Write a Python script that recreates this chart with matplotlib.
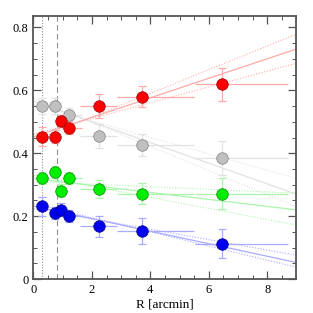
import numpy as np
import matplotlib.pyplot as plt
from matplotlib.ticker import MultipleLocator

# radial bins
r7 = [0.28, 0.72, 0.94, 1.22, 2.25, 3.73, 6.46]
r_lo7 = [0.18, 0.16, 0.12, 0.22, 0.66, 0.88, 0.94]
r_hi7 = [0.17, 0.13, 0.12, 0.44, 0.60, 1.77, 2.26]

r_gray = [0.28, 0.72, 1.22, 2.25, 3.73, 6.46]
r_lo_gray = [0.18, 0.16, 0.22, 0.66, 0.88, 0.94]
r_hi_gray = [0.17, 0.13, 0.44, 0.60, 1.77, 2.26]

red_y = [0.453, 0.453, 0.503, 0.481, 0.550, 0.579, 0.619]
red_err = [0.030, 0.020, 0.020, 0.020, 0.037, 0.033, 0.053]
gray_y = [0.551, 0.551, 0.522, 0.455, 0.426, 0.386]
gray_err = [0.025, 0.025, 0.022, 0.038, 0.035, 0.054]
green_y = [0.322, 0.341, 0.281, 0.322, 0.286, 0.272, 0.272]
green_err = [0.020, 0.020, 0.020, 0.020, 0.028, 0.033, 0.049]
blue_y = [0.231, 0.210, 0.221, 0.201, 0.168, 0.154, 0.113]
blue_err = [0.030, 0.020, 0.020, 0.020, 0.033, 0.041, 0.047]

# fitted lines: values at R=0 and R=9 (solid, upper dotted, lower dotted)
fit_x = [0, 9]
red_fit = [[0.452, 0.731], [0.440, 0.778], [0.460, 0.686]]
gray_fit = [[0.565, 0.270], [0.555, 0.320], [0.575, 0.230]]
green_fit = [[0.320, 0.220], [0.310, 0.273], [0.330, 0.172]]
blue_fit = [[0.232, 0.053], [0.225, 0.076], [0.240, 0.038]]

plt.rcParams['font.family'] = ['Liberation Serif', 'DejaVu Serif']

fig = plt.figure(figsize=(3.13, 3.13), dpi=100)
ax = fig.add_axes([0.107, 0.108, 0.84, 0.841])

series = [
    (r_gray, r_lo_gray, r_hi_gray, gray_y, gray_err, gray_fit, '#c0c0c0', '#808080', '#e2e2e2'),
    (r7, r_lo7, r_hi7, red_y, red_err, red_fit, '#ff0000', '#900000', '#ffaaaa'),
    (r7, r_lo7, r_hi7, green_y, green_err, green_fit, '#00ee00', '#008800', '#aaf5aa'),
    (r7, r_lo7, r_hi7, blue_y, blue_err, blue_fit, '#0000ee', '#000080', '#aaaaff'),
]

for x, xlo, xhi, y, yerr, fit, fc, ec, lc in series:
    ax.plot(fit_x, fit[0], color=lc, lw=0.9, zorder=1)
    ax.plot(fit_x, fit[1], color=lc, lw=0.8, ls=(0, (1, 1.5)), zorder=1)
    ax.plot(fit_x, fit[2], color=lc, lw=0.8, ls=(0, (1, 1.5)), zorder=1)
    ax.errorbar(x, y, xerr=[xlo, xhi], fmt='none', ecolor=lc,
                elinewidth=0.9, capsize=0, zorder=2)
    ax.errorbar(x, y, yerr=yerr, fmt='none', ecolor=lc,
                elinewidth=0.9, capsize=3, capthick=0.9, zorder=2)
    ax.plot(x, y, 'o', ms=8.3, mfc=fc, mec=ec, mew=0.5, zorder=3)

ax.axvline(0.28, color='#909090', lw=0.8, ls=(0, (1, 1.5)), zorder=0)
ax.axvline(0.82, color='#909090', lw=0.8, ls=(0, (5, 3)), zorder=0)

ax.set_xlim(0, 9)
ax.set_ylim(0, 0.836)
ax.xaxis.set_major_locator(MultipleLocator(2))
ax.xaxis.set_minor_locator(MultipleLocator(0.5))
ax.yaxis.set_major_locator(MultipleLocator(0.2))
ax.yaxis.set_minor_locator(MultipleLocator(0.05))
ax.set_xticks([0, 2, 4, 6, 8])
ax.set_xticklabels(['0', '2', '4', '6', '8'])
ax.set_yticks([0, 0.2, 0.4, 0.6, 0.8])
ax.set_yticklabels(['0', '0.2', '0.4', '0.6', '0.8'])
ax.tick_params(which='both', direction='in', top=True, right=True,
               labelsize=9, color='#555555')
ax.tick_params(which='major', length=6, width=0.9)
ax.tick_params(which='minor', length=3, width=0.7)
for s in ax.spines.values():
    s.set_color('#555555')
    s.set_linewidth(1.3)
ax.set_xlabel('R [arcmin]', fontsize=9.5, labelpad=2)

fig.savefig('out.png', dpi=100)
